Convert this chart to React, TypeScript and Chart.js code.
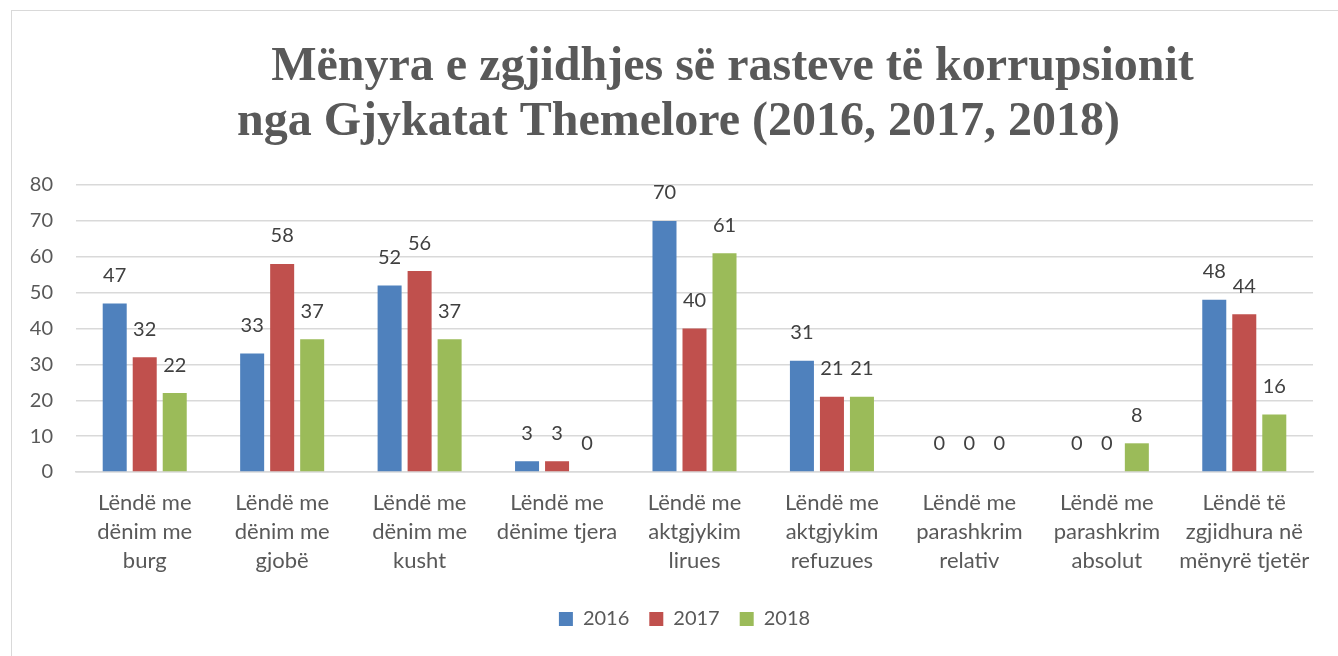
import React, { useEffect, useRef } from 'react';
import { Chart, registerables } from 'chart.js';

Chart.register(...registerables);

const titleLines = [
  '        Mënyra e zgjidhjes së rasteve të korrupsionit',
  'nga Gjykatat Themelore (2016, 2017, 2018) ',
];

const categories: string[][] = [
  ['Lëndë me', 'dënim me', 'burg'],
  ['Lëndë me', 'dënim me', 'gjobë'],
  ['Lëndë me', 'dënim me', 'kusht'],
  ['Lëndë me', 'dënime tjera'],
  ['Lëndë me', 'aktgjykim', 'lirues'],
  ['Lëndë me', 'aktgjykim', 'refuzues'],
  ['Lëndë me', 'parashkrim', 'relativ'],
  ['Lëndë me', 'parashkrim', 'absolut'],
  ['Lëndë të', 'zgjidhura në', 'mënyrë tjetër'],
];

const seriesNames = ['2016', '2017', '2018'];
const values2016 = [47, 33, 52, 3, 70, 31, 0, 0, 48];
const values2017 = [32, 58, 56, 3, 40, 21, 0, 0, 44];
const values2018 = [22, 37, 37, 0, 61, 21, 0, 8, 16];
const seriesColors = ['#4F81BD', '#C0504D', '#9BBB59'];

const yTicks = [0, 10, 20, 30, 40, 50, 60, 70, 80];

const FONT = 'Lato';

const dataLabelPlugin = {
  id: 'dataLabels',
  afterDatasetsDraw(chart: any) {
    const ctx = chart.ctx;
    ctx.save();
    ctx.font = `20px ${FONT}`;
    ctx.fillStyle = '#404040';
    ctx.textAlign = 'center';
    ctx.textBaseline = 'middle';
    chart.data.datasets.forEach((ds: any, i: number) => {
      const meta = chart.getDatasetMeta(i);
      meta.data.forEach((el: any, j: number) => {
        ctx.fillText(String(ds.data[j]), el.x, el.y - 28);
      });
    });
    ctx.restore();
  },
};

export default function App() {
  const ref = useRef<HTMLCanvasElement | null>(null);

  useEffect(() => {
    if (!ref.current) return;
    const allSeries = [values2016, values2017, values2018];
    const chart = new Chart(ref.current, {
      type: 'bar',
      data: {
        labels: categories,
        datasets: seriesNames.map((name, i) => ({
          label: name,
          data: allSeries[i],
          backgroundColor: seriesColors[i],
          borderWidth: 0,
          categoryPercentage: 0.655,
          barPercentage: 0.8,
        })),
      },
      options: {
        animation: false,
        responsive: false,
        maintainAspectRatio: false,
        layout: { padding: { left: 0, right: 0, top: 0, bottom: 41 } },
        plugins: {
          title: {
            display: true,
            text: titleLines,
            color: '#595959',
            font: { family: 'Liberation Serif', weight: 'bold', size: 48, lineHeight: 1.146 },
            padding: { top: 29, bottom: 35 },
          },
          legend: {
            position: 'bottom',
            labels: {
              color: '#595959',
              font: { family: FONT, size: 20 },
              boxWidth: 14,
              boxHeight: 14,
              padding: 20,
            },
          },
          tooltip: { enabled: false },
        },
        scales: {
          x: {
            grid: { display: false, drawTicks: false },
            border: { display: true, color: '#d9d9d9', width: 1.5 },
            ticks: {
              color: '#595959',
              font: { family: FONT, size: 22, lineHeight: 1.3 },
              padding: 17,
              maxRotation: 0,
              autoSkip: false,
            },
            afterFit: (axis: any) => {
              axis.height = 117;
            },
          },
          y: {
            min: 0,
            max: 80,
            afterBuildTicks: (axis: any) => {
              axis.ticks = yTicks.map((v) => ({ value: v }));
            },
            grid: { color: '#d9d9d9', lineWidth: 1.5, drawTicks: false },
            border: { display: false },
            ticks: {
              color: '#595959',
              font: { family: FONT, size: 20 },
              padding: 23,
            },
            afterFit: (axis: any) => {
              axis.width = 64;
            },
          },
          yRight: {
            type: 'linear',
            position: 'right',
            min: 0,
            max: 80,
            grid: { display: false, drawTicks: false },
            border: { display: false },
            ticks: { display: false },
            afterFit: (axis: any) => {
              axis.width = 44;
            },
          },
        },
      },
      plugins: [dataLabelPlugin],
    });
    return () => chart.destroy();
  }, []);

  return (
    <div style={{ position: 'fixed', inset: 0, overflow: 'hidden', background: '#fff' }}>
      <div
        style={{
          position: 'absolute',
          left: 11,
          top: 10,
          width: 1347,
          height: 671,
          border: '1px solid #d9d9d9',
        }}
      >
        <canvas ref={ref} width={1345} height={669} style={{ display: 'block' }} />
      </div>
    </div>
  );
}
